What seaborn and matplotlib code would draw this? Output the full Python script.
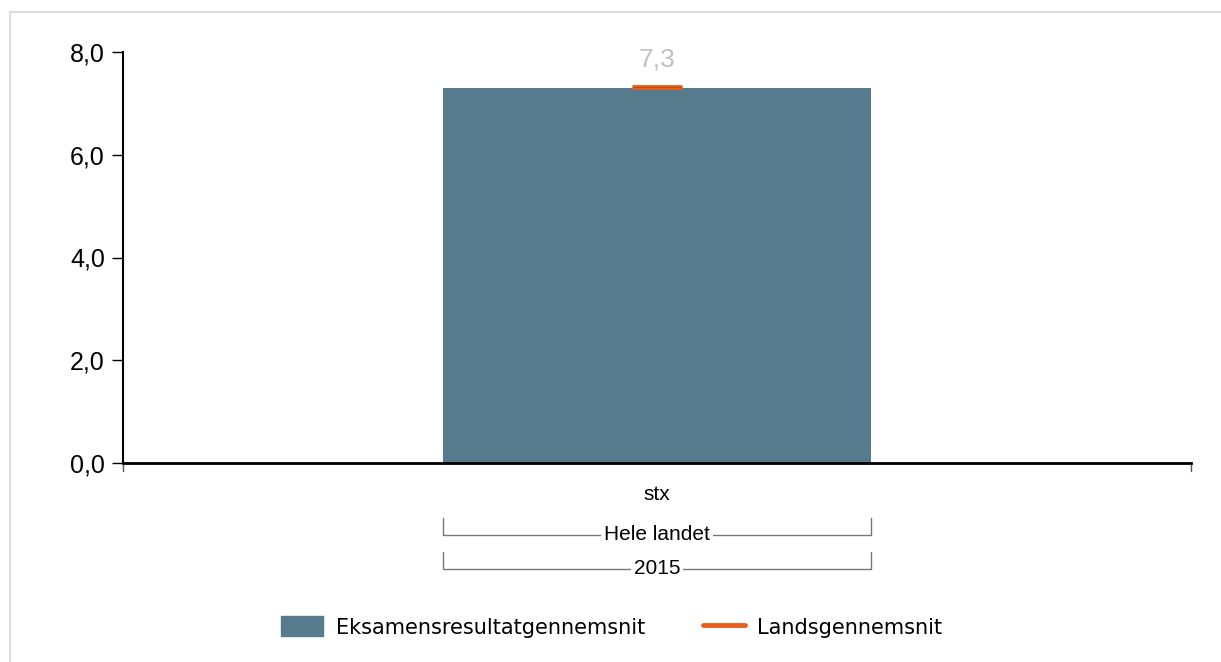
import matplotlib
matplotlib.use("Agg")
import matplotlib.pyplot as plt
import matplotlib.transforms as mtransforms
import seaborn as sns
import pandas as pd
from matplotlib.patches import Rectangle, Patch
from matplotlib.lines import Line2D

categories = ["stx"]
exam_avg = [7.3]
national_avg = [7.32]
group_label = "Hele landet"
year_label = "2015"
yticks = [0.0, 2.0, 4.0, 6.0, 8.0]

sns.set_style("white")
plt.rcParams['font.family'] = ['Liberation Sans', 'DejaVu Sans']
plt.rcParams['text.color'] = 'black'
plt.rcParams['xtick.color'] = 'black'
plt.rcParams['ytick.color'] = 'black'

bar_color = "#557b8d"
orange = "#e8601c"

fig = plt.figure(figsize=(12.21, 6.62), dpi=100)
ax = fig.add_axes([123/1221, 1-463/662, (1191-123)/1221, (463-52)/662])

df = pd.DataFrame({"cat": categories, "val": exam_avg})
sns.barplot(data=df, x="cat", y="val", color=bar_color, width=0.4, ax=ax,
            saturation=1, linewidth=0)

for i, v in enumerate(national_avg):
    ax.hlines(v, i - 0.023, i + 0.023, color=orange, linewidth=3.5, zorder=5)
    ax.hlines(v, i - 0.023, i + 0.023, color="#c04a10", linewidth=0.6, zorder=6)

for i, v in enumerate(exam_avg):
    ax.text(i, 7.62, f"{v:.1f}".replace(".", ","), ha="center", va="bottom",
            fontsize=19, color="#c0c0c0")

ax.set_xlim(-0.5, 0.5)
ax.set_ylim(0, 8)
ax.set_yticks(yticks)
ax.set_yticklabels([f"{t:.1f}".replace(".", ",") for t in yticks], fontsize=18,
                   color="black")
ax.set_xticks([0])
ax.set_xticklabels(categories, fontsize=15, color="black")
ax.set_xlabel("")
ax.set_ylabel("")
for s in ["top", "right"]:
    ax.spines[s].set_visible(False)
ax.spines["left"].set_color("black")
ax.spines["left"].set_linewidth(1.5)
ax.spines["bottom"].set_color("black")
ax.spines["bottom"].set_linewidth(2)
ax.tick_params(axis="y", left=True, length=8, width=1, color="black", pad=5)
ax.tick_params(axis="x", bottom=False, pad=12)

# end ticks on x axis
for xe in [-0.5, 0.5]:
    ax.plot([xe, xe], [0, -0.15], color="#555555", lw=1, clip_on=False)

# group brackets
trans = mtransforms.blended_transform_factory(ax.transData, fig.transFigure)
x0, x1 = -0.2, 0.2
for label, ytop, ybot in [(group_label, 1-518/662, 1-535/662), (year_label, 1-552/662, 1-569/662)]:
    ax.plot([x0, x0, x1, x1], [ytop, ybot, ybot, ytop], color="#777777", lw=1,
            transform=trans, clip_on=False)
    ax.text(0, ybot, label, ha="center", va="center", fontsize=15, transform=trans,
            color="black", bbox=dict(facecolor="white", edgecolor="none", pad=2))

# legend
handles = [Patch(facecolor=bar_color, edgecolor=bar_color),
           Line2D([0], [0], color=orange, lw=3.5)]
leg = fig.legend(handles, ["Eksamensresultatgennemsnit", "Landsgennemsnit"],
           loc="center", bbox_to_anchor=(612/1221, 1-627/662), ncol=2, frameon=False,
           prop={"family": "DejaVu Sans", "size": 15}, handlelength=2.0,
           handleheight=1.1, columnspacing=2.8, handletextpad=0.6)
for t in leg.get_texts():
    t.set_color("black")

# frame border
fig.add_artist(Rectangle((10/1221, -0.01), 1.02, 1-12/662 + 0.01, transform=fig.transFigure,
                         fill=False, edgecolor="#dddddd", lw=1.5))

fig.savefig("out.png", dpi=100)
